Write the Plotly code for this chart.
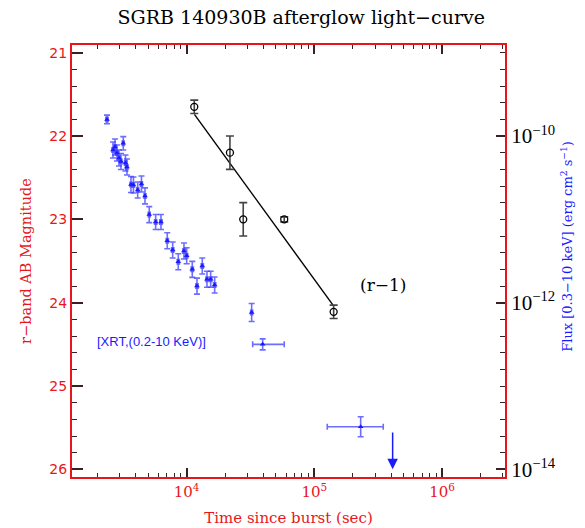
import numpy as np
import plotly.graph_objects as go

# ---------------- data ----------------
# Optical r-band (AB mag)
opt_t = [11470, 21820, 27730, 58100, 141600]
opt_mag = [21.65, 22.20, 23.00, 23.00, 24.11]
opt_err = [0.08, 0.20, 0.20, 0.03, 0.08]

# power-law fit (r-1)
fit_t = [11500, 140000]
fit_mag = [21.74, 24.03]

# XRT (0.3-10 keV flux, erg cm^-2 s^-1)
xrt_t = [2377, 2648, 2748, 2845, 3188, 2951, 3059, 3317, 3408, 3662, 3831, 4133,
         4426, 4716, 5093, 5717, 6292, 7047, 7771, 8595, 9526, 10000, 11064, 12042,
         13249, 14421, 15417, 16566, 32280, 39370, 230500]
xrt_flux = [1.58e-10, 6.79e-11, 7.38e-11, 6.25e-11, 8.17e-11, 5.45e-11, 4.94e-11,
            4.74e-11, 4.25e-11, 2.62e-11, 2.58e-11, 2.25e-11, 2.65e-11, 1.91e-11,
            1.14e-11, 9.29e-12, 9.29e-12, 5.54e-12, 4.29e-12, 3.10e-12, 4.17e-12,
            3.66e-12, 2.51e-12, 1.58e-12, 2.75e-12, 1.91e-12, 1.91e-12, 1.63e-12,
            7.62e-13, 3.16e-13, 3.25e-14]
xrt_ferr_dex = [0.052, 0.096, 0.096, 0.096, 0.080, 0.096, 0.096, 0.096, 0.096,
                0.096, 0.096, 0.096, 0.096, 0.096, 0.096, 0.090, 0.090, 0.096,
                0.096, 0.096, 0.096, 0.096, 0.096, 0.096, 0.096, 0.096, 0.096,
                0.096, 0.108, 0.066, 0.120]
xrt_t_lo = [2330, 2600, 2700, 2795, 3130, 2900, 3005, 3260, 3350, 3600, 3765, 4060,
            4350, 4635, 5005, 5610, 6160, 6910, 7620, 8430, 9340, 9810, 10850, 11810,
            13000, 14150, 15130, 16250, 31700, 32870, 126200]
xrt_t_hi = [2425, 2700, 2800, 2895, 3245, 3005, 3115, 3375, 3470, 3730, 3900, 4210,
            4505, 4800, 5185, 5830, 6420, 7190, 7930, 8770, 9720, 10200, 11290, 12290,
            13510, 14700, 15720, 16890, 32870, 58100, 346300]

# XRT upper limit
ul_t = [410300]
ul_flux = [2.88e-14]
ul_floor = [1e-14]

x_ticks = [1e4, 1e5, 1e6]
x_ticktext = ["10<sup>4</sup>", "10<sup>5</sup>", "10<sup>6</sup>"]
mag_ticks = [21, 22, 23, 24, 25, 26]
flux_ticks = [1e-14, 1e-12, 1e-10]
flux_ticktext = ["10<sup>\u221214</sup>", "10<sup>\u221212</sup>", "10<sup>\u221210</sup>"]

# ---------------- figure ----------------
RED = "#e8161b"
TICK = "#3a2020"
BLUE = "#1a1aff"
SERIF = "DejaVu Serif"

xf = np.array(xrt_flux)
xd = np.array(xrt_ferr_dex)
xt = np.array(xrt_t)

fig = go.Figure()

fig.add_trace(go.Scatter(
    x=xrt_t, y=xrt_flux, yaxis="y2", mode="markers",
    marker=dict(symbol="triangle-up", size=5, color=BLUE),
    error_y=dict(type="data", symmetric=False,
                 array=xf * (10 ** xd - 1), arrayminus=xf * (1 - 10 ** (-xd)),
                 color="rgba(60,60,255,0.75)", thickness=1.6, width=3),
    error_x=dict(type="data", symmetric=False,
                 array=np.array(xrt_t_hi) - xt, arrayminus=xt - np.array(xrt_t_lo),
                 color="rgba(60,60,255,0.75)", thickness=1.6, width=3),
    showlegend=False, hoverinfo="skip"))

fig.add_trace(go.Scatter(
    x=fit_t, y=fit_mag, mode="lines",
    line=dict(color="black", width=1.4), showlegend=False, hoverinfo="skip"))

fig.add_trace(go.Scatter(
    x=opt_t, y=opt_mag, mode="markers",
    marker=dict(symbol="circle-open", size=7, color="black", line=dict(width=1.3)),
    error_y=dict(type="data", array=opt_err, color="#444444", thickness=1.6, width=4),
    showlegend=False, hoverinfo="skip"))

# upper limit arrow
for t, f, f0 in zip(ul_t, ul_flux, ul_floor):
    fig.add_annotation(x=np.log10(t), y=np.log10(f0), ax=np.log10(t), ay=np.log10(f),
                       xref="x", yref="y2", axref="x", ayref="y2",
                       showarrow=True, arrowhead=2, arrowsize=1.4, arrowwidth=1.5,
                       arrowcolor=BLUE, text="")

fig.add_annotation(x=np.log10(344000), y=23.79, xref="x", yref="y", text="(r\u22121)",
                   showarrow=False, font=dict(family=SERIF, size=17, color="black"))
fig.add_annotation(x=np.log10(5350), y=24.47, xref="x", yref="y",
                   text="[XRT,(0.2-10 KeV)]", showarrow=False,
                   font=dict(family="Liberation Sans", size=13, color=BLUE))
fig.add_annotation(x=1.143, y=0.535, xref="paper", yref="paper",
                   text="Flux [0.3\u221210 keV] (erg cm<sup>2</sup> s<sup>\u22121</sup>)",
                   textangle=-90, showarrow=False, xanchor="center", yanchor="middle",
                   font=dict(family=SERIF, size=13, color=BLUE))

fig.update_layout(
    width=585, height=528,
    margin=dict(l=72, r=80, t=45, b=51),
    paper_bgcolor="white", plot_bgcolor="white",
    title=dict(text="SGRB 140930B afterglow light\u2212curve", x=0.515, xanchor="center",
               y=0.967, yanchor="middle",
               font=dict(family=SERIF, size=19, color="black")),
    xaxis=dict(type="log", range=[3.102, 6.493], showgrid=False, zeroline=False,
               automargin=False,
               showline=True, linecolor=RED, linewidth=2, mirror="ticks",
               ticks="inside", ticklen=9, tickwidth=1.5, tickcolor=TICK,
               tickvals=x_ticks, ticktext=x_ticktext,
               tickfont=dict(family=SERIF, size=15, color=RED),
               minor=dict(ticks="inside", ticklen=4, tickwidth=1.3, tickcolor=TICK,
                          dtick="D1", showgrid=False),
               title=dict(text="Time since burst (sec)", standoff=12,
                          font=dict(family=SERIF, size=15, color=RED))),
    yaxis=dict(range=[26.092, 20.908], showgrid=False, zeroline=False,
               automargin=False,
               showline=True, linecolor=RED, linewidth=2,
               ticks="inside", ticklen=11, tickwidth=1.5, tickcolor=TICK,
               tickvals=mag_ticks,
               tickfont=dict(family="DejaVu Sans", size=14, color=RED),
               minor=dict(ticks="inside", ticklen=5, tickwidth=1.3, tickcolor=TICK,
                          dtick=0.2, showgrid=False),
               title=dict(text="r\u2212band AB Magnitude", standoff=14,
                          font=dict(family=SERIF, size=14.5, color=RED))),
    yaxis2=dict(type="log", overlaying="y", side="right", range=[-14.092, -8.908],
                automargin=False,
                showgrid=False, zeroline=False, showline=True, linecolor=RED, linewidth=2,
                ticks="inside", ticklen=9, tickwidth=1.5, tickcolor=TICK,
                tickvals=flux_ticks, ticktext=flux_ticktext,
                tickfont=dict(family="Liberation Serif", size=21, color="black"),
                minor=dict(ticks="inside", ticklen=5, tickwidth=1.3, tickcolor=TICK,
                           tickvals=list(10 ** np.arange(-14.0, -8.85, 0.2)), showgrid=False)),
)

fig.write_html("out.html")
